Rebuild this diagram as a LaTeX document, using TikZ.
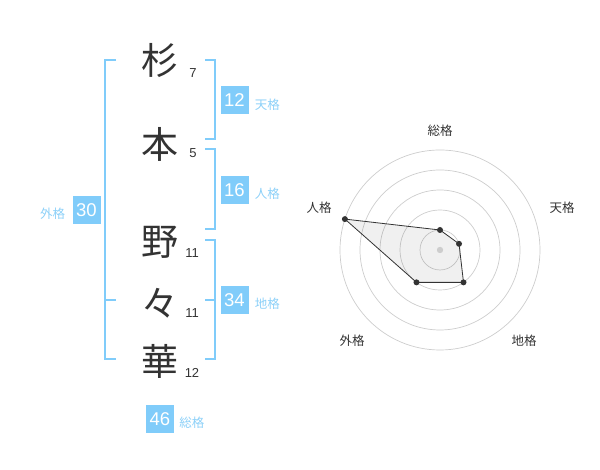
\documentclass[tikz,border=0pt]{standalone}
\usepackage{fontspec}
\setmainfont{Liberation Sans}
\newfontfamily\jpfont{Noto Sans CJK JP}
\usetikzlibrary{positioning}
\definecolor{kakublue}{RGB}{128,204,250}
\definecolor{kakutext}{RGB}{140,208,248}
\definecolor{ringgray}{RGB}{205,205,205}
\definecolor{inkdark}{RGB}{51,51,51}
\tikzset{
  kanji/.style={font=\jpfont\fontsize{37}{37}\selectfont, text=inkdark, inner sep=0pt},
  strokes/.style={font=\fontsize{13}{13}\selectfont, text=inkdark, inner sep=0pt},
  kakubox/.style={fill=kakublue, text=white, minimum size=28pt, inner sep=0pt, font=\fontsize{18.5}{18.5}\selectfont},
  kakulabel/.style={text=kakutext, font=\jpfont\fontsize{12.5}{12.5}\selectfont, inner sep=0pt},
  bracket/.style={kakublue, line width=2pt},
  ring/.style={ringgray, line width=0.7pt},
  axislabel/.style={text=inkdark, font=\jpfont\fontsize{12.5}{12.5}\selectfont, inner sep=0pt},
  vertex/.style={circle, fill=inkdark, inner sep=0pt, minimum size=6pt},
}
\begin{document}
\begin{tikzpicture}[x=1pt,y=1pt]
\useasboundingbox (0,0) rectangle (600,470);
% name
\node[kanji] (C1) at (160,409) {杉};
\node[kanji] (C2) at (160,326) {本};
\node[kanji] (C3) at (160,228) {野};
\node[kanji] (C4) at (160,167) {々};
\node[kanji] (C5) at (160,109) {華};
\node[strokes] (S1) at (193,397) {7};
\node[strokes] (S2) at (193,317) {5};
\node[strokes] (S3) at (192,217) {11};
\node[strokes] (S4) at (192,157) {11};
\node[strokes] (S5) at (192,97) {12};
% brackets
\draw[bracket] (116,410) -- (105,410) -- (105,111) -- (116,111);
\draw[bracket] (105,170) -- (116,170);
\draw[bracket] (205,410) -- (215,410) -- (215,331) -- (205,331);
\draw[bracket] (205,321) -- (215,321) -- (215,241) -- (205,241);
\draw[bracket] (205,230) -- (215,230) -- (215,111) -- (205,111);
\draw[bracket] (205,170) -- (215,170);
% scores
\node[kakubox] (TEN) at (234.5,369.5) {12};
\node[kakubox] (JIN) at (234.5,280) {16};
\node[kakubox] (CHI) at (234.5,170) {34};
\node[kakubox] (GAI) at (86.5,260) {30};
\node[kakubox] (SOU) at (160,51) {46};
\node[kakulabel, right=6pt of TEN, yshift=-4pt] (tenL) {天格};
\node[kakulabel, right=6pt of JIN, yshift=-4pt] (jinL) {人格};
\node[kakulabel, right=6pt of CHI, yshift=-4pt] (chiL) {地格};
\node[kakulabel, left=7pt of GAI, yshift=-4pt] (gaiL) {外格};
\node[kakulabel, right=5pt of SOU, yshift=-4pt] (souL) {総格};
% radar
\begin{scope}[shift={(440,220)}]
  \coordinate (O) at (0,0);
  \foreach \r in {20,40,...,100}
    \draw[ring] (O) circle (\r);
  \coordinate (P1) at (90:20);
  \coordinate (P2) at (18:20);
  \coordinate (P3) at (-54:40);
  \coordinate (P4) at (-126:40);
  \coordinate (P5) at (162:100);
  \fill[black, opacity=0.06] (P1) -- (P2) -- (P3) -- (P4) -- (P5) -- cycle;
  \fill[ringgray] (O) circle (3.2);
  \draw[inkdark, line width=0.8pt] (P1) -- (P2) -- (P3) -- (P4) -- (P5) -- cycle;
  \foreach \p in {P1,P2,P3,P4,P5}
    \node[vertex] at (\p) {};
  \node[axislabel] (A1) at (0,119) {総格};
  \node[axislabel] (A2) at (122,42) {天格};
  \node[axislabel] (A3) at (84,-91) {地格};
  \node[axislabel] (A4) at (-88,-91) {外格};
  \node[axislabel] (A5) at (-121,42) {人格};
\end{scope}
\end{tikzpicture}
\end{document}
